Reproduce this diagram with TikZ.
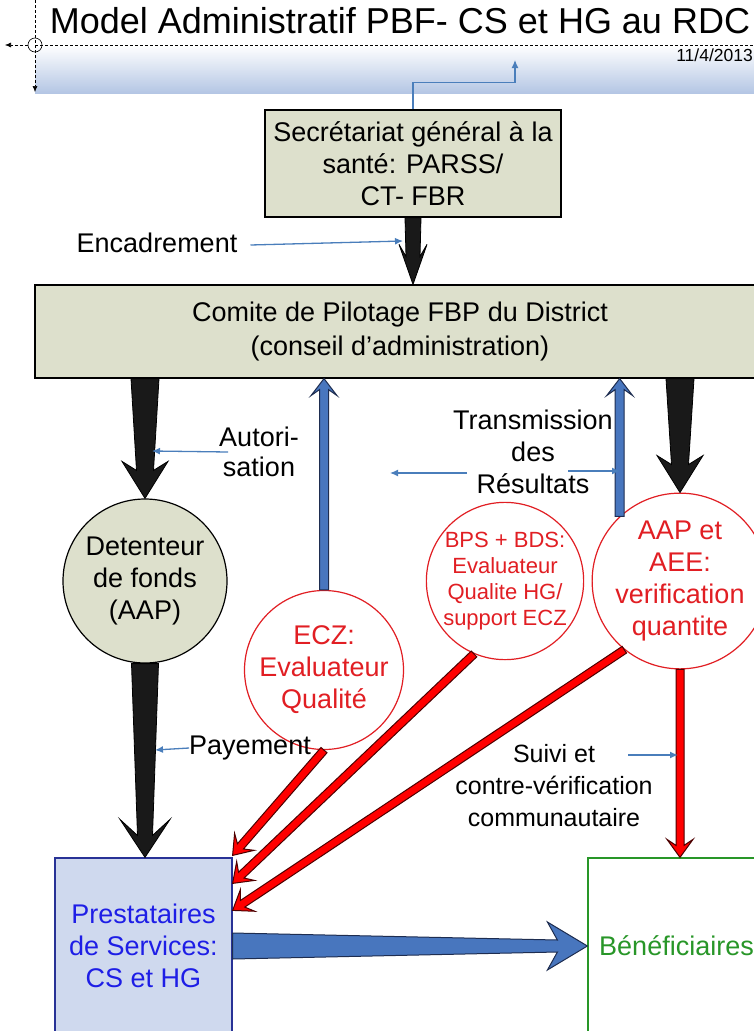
\documentclass[tikz,border=0pt]{standalone}
\usepackage{fontspec}
\setmainfont{Liberation Sans}
\usetikzlibrary{calc,arrows.meta,positioning}

\definecolor{boxolive}{RGB}{221,224,204}
\definecolor{bandblue}{RGB}{180,198,228}
\definecolor{linkblue}{RGB}{74,126,187}
\definecolor{arrowblue}{RGB}{72,118,190}
\definecolor{edgeblue}{RGB}{30,45,80}
\definecolor{qualred}{RGB}{225,30,35}
\definecolor{provfill}{RGB}{207,217,238}
\definecolor{provedge}{RGB}{40,50,150}
\definecolor{provtext}{RGB}{30,30,230}
\definecolor{benegreen}{RGB}{40,150,40}

% block arrow: from, to, style, tail hw, shaft hw, head hw, barb length, join length
\newcommand\fatarrow[8]{%
  \coordinate (fa-b) at ($(#2)!#7pt!(#1)$);
  \coordinate (fa-j) at ($(#2)!#8pt!(#1)$);
  \filldraw[#3] ($(#1)!#4pt!90:(#2)$) -- ($(fa-j)!#5pt!90:(#2)$) -- ($(fa-b)!#6pt!90:(#2)$)
    -- (#2) -- ($(fa-b)!#6pt!-90:(#2)$) -- ($(fa-j)!#5pt!-90:(#2)$) -- ($(#1)!#4pt!-90:(#2)$) -- cycle;}

\begin{document}
\begin{tikzpicture}[x=1pt,y=-1pt,
  every node/.style={font=\fontsize{27}{32}\selectfont, inner sep=0pt, align=center},
  orgbox/.style={draw=black, fill=boxolive, line width=1.2pt},
  fundcirc/.style={circle, draw=black, fill=boxolive, line width=1.2pt, minimum size=164pt},
  evalcirc/.style={circle, draw=qualred, fill=white, text=qualred, line width=1.2pt, minimum size=#1},
  thinlink/.style={draw=linkblue, line width=1.3pt, -{Latex[length=8pt,width=7pt]}},
  guide/.style={dashed, line width=0.6pt, dash pattern=on 3pt off 2pt},
  blackflow/.style={fill=black!90, draw=black, line width=0.8pt},
  blueflow/.style={fill=arrowblue, draw=edgeblue, line width=1pt},
  redflow/.style={fill=red, draw=black!70!red, line width=1pt}]
\useasboundingbox (0,0) rectangle (753,1031);

% header band
\shade[top color=white, bottom color=bandblue] (35,45) rectangle (765,93);
\draw[guide] (35,45) -- (765,45);
\draw[guide, -{Latex[length=6pt,width=5pt]}] (28,45) -- (5,45);
\draw[guide, -{Latex[length=6pt,width=5pt]}] (35,0) -- (35,92);
\draw[line width=0.6pt] (35,45) circle (7pt);
\node[font=\fontsize{36}{40}\selectfont] (title) at (400,21) {Model Administratif PBF- CS et HG au RDC};
\node[font=\fontsize{17.5}{20}\selectfont, anchor=east] (date) at (753,55) {11/4/2013};

% boxes and circles
\node[orgbox, minimum width=296pt, minimum height=107pt] (sg) at (413,163.5) {Secrétariat général à la\\santé: PARSS/\\CT- FBR};
\node[orgbox, minimum width=730pt, minimum height=93pt] (cp) at (400,331.5) {Comite de Pilotage FBP du District\\[2pt](conseil d’administration)};
\node[fundcirc] (df) at (145,581) {Detenteur\\de fonds\\(AAP)};
\node[evalcirc=159pt] (ecz) at (324,670) {ECZ:\\Evaluateur\\Qualité};
\node[evalcirc=156pt, font=\fontsize{22}{26}\selectfont] (bps) at (505,581) {BPS + BDS:\\Evaluateur\\Qualite HG/\\support ECZ};
\node[evalcirc=160pt] (aap) at (680,581) {AAP et\\AEE:\\verification\\quantite};
\node[draw=provedge, fill=provfill, text=provtext, line width=1.2pt, minimum width=177pt, minimum height=176pt] (ps) at (143.5,946) {Prestataires\\de Services:\\CS et HG};
\node[draw=benegreen, fill=white, text=benegreen, line width=1.2pt, minimum width=177pt, minimum height=176pt] (bn) at (676.5,946) {Bénéficiaires};

% labels
\node (enc) at (157,243) {Encadrement};
\node (aut) at (259,452) {Autori-\\[-2pt]sation};
\node (tr) at (533,452) {Transmission\\des\\Résultats};
\node (pay) at (250,748) {Payement};
\node[font=\fontsize{25}{32}\selectfont] (suivi) at (554,786) {Suivi et\\contre-vérification\\communautaire};

\coordinate (hdr) at (515,60);
\coordinate (encend) at (403,241);
\coordinate (autend) at (152,451);
\coordinate (trl0) at (467,473);
\coordinate (trl) at (390,473);
\coordinate (trr0) at (568,471);
\coordinate (trr) at (620,471);
\coordinate (payend) at (155,750);
\coordinate (suivi0) at (628,755);
\coordinate (suiviend) at (678,755);

% block arrows
\fatarrow{sg.south}{sg.south |- cp.north}{blackflow}{8}{7}{14}{40}{28}
\fatarrow{cp.south -| df.north}{df.north}{blackflow}{14}{8.5}{23}{37}{28}
\fatarrow{cp.south -| aap.north}{aap.north}{blackflow}{14}{8.5}{23}{37}{28}
\fatarrow{df.south}{df.south |- ps.north}{blackflow}{13.5}{7.5}{25}{38}{22}
\fatarrow{ecz.north}{ecz.north |- cp.south}{blueflow}{4.5}{4.5}{13}{17}{11}
\fatarrow{aap.133}{aap.133 |- cp.south}{blueflow}{4.5}{4.5}{13}{17}{11}
\fatarrow{ecz.south}{[yshift=2pt]ps.north east}{redflow}{4}{4}{13}{18}{12}
\fatarrow{bps.247}{[yshift=-26pt]ps.north east}{redflow}{4}{4}{13}{18}{12}
\fatarrow{aap.231}{[yshift=-53pt]ps.north east}{redflow}{4}{4}{13}{18}{12}
\fatarrow{aap.south}{aap.south |- bn.north}{redflow}{4}{4}{13}{18}{12}
\fatarrow{ps.east}{bn.west}{blueflow}{13}{6}{24}{40}{30}

% thin pointers
\draw[thinlink] (sg.north) -- ++(0,-27) -| (hdr);
\draw[thinlink] ([xshift=13pt,yshift=-2pt]enc.east) -- (encend);
\draw[thinlink] ([xshift=9pt]aut.west) -- (autend);
\draw[thinlink] (trl0) -- (trl);
\draw[thinlink] (trr0) -- (trr);
\draw[thinlink] (pay.west) -- (payend);
\draw[thinlink] (suivi0) -- (suiviend);
\end{tikzpicture}
\end{document}
